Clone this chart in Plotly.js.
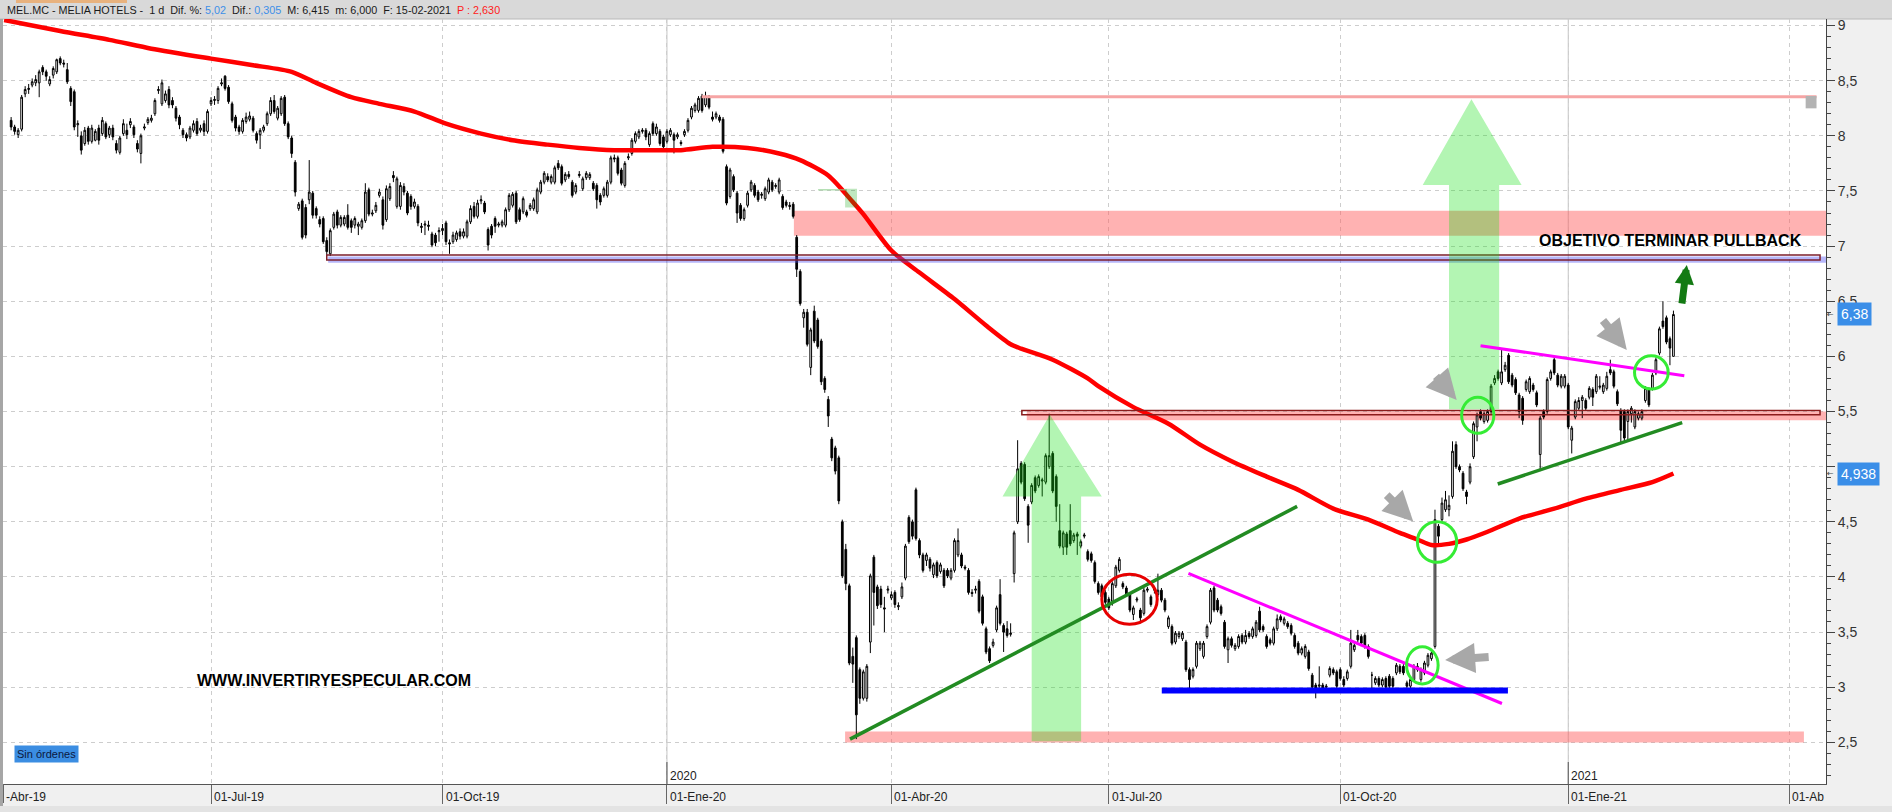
<!DOCTYPE html>
<html><head><meta charset="utf-8">
<script src="https://cdn.plot.ly/plotly-3.0.1.min.js"></script>
<style>html,body{margin:0;padding:0;background:#f0f0f0;overflow:hidden}#chart{width:1892px;height:812px}</style>
</head><body><div id="chart"></div>
<script>
// ---------------- DATA ----------------
const HOLIDAYS = ['2019-04-19','2019-04-22','2019-05-01','2019-12-25','2019-12-26','2020-01-01','2020-04-10','2020-04-13','2020-05-01','2020-12-25','2021-01-01','2021-04-02','2021-04-05'];
const FIRST_DAY = '2019-04-08';
const LAST_DAY = '2021-02-15';

const OPEN = [
8.14,8.08,8.01,8.06,8.38,8.42,8.46,8.48,8.48,8.62,
8.58,8.47,8.55,8.58,8.70,8.66,8.60,8.43,8.40,8.10,
8.00,7.93,8.07,7.95,7.96,8.07,8.02,8.11,8.01,8.07,
7.93,7.85,8.02,8.05,8.10,8.08,7.93,7.84,8.07,8.12,
8.14,8.20,8.41,8.29,8.32,8.42,8.32,8.25,8.17,8.05,
8.01,7.99,8.05,8.13,8.05,8.11,8.04,8.29,8.32,8.32,
8.47,8.54,8.44,8.29,8.17,8.08,8.04,8.13,8.15,8.16,
8.02,8.01,8.05,8.11,8.20,8.32,8.16,8.20,8.35,8.11,
7.98,7.76,7.34,7.41,7.35,7.42,7.48,7.34,7.24,7.25,
7.05,6.93,7.17,7.31,7.19,7.20,7.28,7.23,7.19,7.18,
7.17,7.23,7.51,7.29,7.32,7.46,7.42,7.24,7.43,7.64,
7.36,7.36,7.54,7.48,7.45,7.36,7.36,7.18,7.19,7.19,
7.11,7.10,7.13,7.14,7.21,7.03,7.04,7.06,7.13,7.09,
7.09,7.22,7.36,7.27,7.41,7.39,7.15,7.18,7.25,7.19,
7.19,7.19,7.33,7.37,7.48,7.33,7.31,7.31,7.34,7.34,
7.31,7.49,7.58,7.63,7.58,7.58,7.75,7.72,7.60,7.65,
7.58,7.49,7.64,7.52,7.62,7.62,7.57,7.55,7.46,7.46,
7.46,7.58,7.80,7.80,7.69,7.55,7.80,7.84,7.95,7.99,
8.04,8.05,7.92,8.11,8.02,8.04,7.99,7.95,8.01,8.01,
7.99,7.94,8.01,8.05,8.17,8.23,8.23,8.36,8.28,8.35,
8.17,8.17,8.17,8.15,7.72,7.45,7.63,7.48,7.37,7.25,
7.37,7.51,7.55,7.49,7.46,7.43,7.49,7.58,7.54,7.49,
7.45,7.40,7.37,7.38,7.08,6.77,6.35,6.40,5.90,6.41,
6.33,6.14,5.80,5.61,5.25,5.17,5.08,4.50,4.25,3.92,
3.28,3.45,3.16,2.90,2.90,3.41,4.18,3.91,3.89,3.72,
3.88,3.81,3.86,3.73,3.82,3.99,4.54,4.50,4.79,4.33,
4.20,4.15,4.16,4.02,4.13,4.05,4.06,4.06,3.99,4.06,
4.20,4.20,4.09,4.06,3.86,3.88,3.96,3.82,3.53,3.35,
3.38,3.52,3.84,3.56,3.53,3.48,4.03,4.50,5.03,5.02,
4.64,4.68,4.90,4.83,4.87,4.86,5.00,5.12,4.91,4.42,
4.27,4.39,4.42,4.33,4.39,4.28,4.37,4.23,4.21,4.13,
3.94,3.92,3.86,3.80,3.78,3.92,4.06,3.94,3.90,3.84,
3.66,3.79,3.70,3.67,3.88,3.82,3.88,3.84,3.88,3.79,
3.55,3.55,3.41,3.46,3.44,3.41,3.16,3.10,3.19,3.35,
3.28,3.46,3.59,3.90,3.79,3.73,3.59,3.34,3.44,3.35,
3.37,3.47,3.41,3.49,3.46,3.47,3.69,3.55,3.46,3.43,
3.40,3.53,3.64,3.58,3.58,3.56,3.47,3.40,3.31,3.28,
3.32,3.11,3.02,3.01,3.02,3.00,3.11,3.16,3.14,3.16,
3.07,3.08,3.19,3.34,3.47,3.46,3.47,3.37,3.11,3.04,
3.08,3.02,3.08,3.10,3.08,3.13,3.19,3.19,3.04,3.01,
3.07,3.16,3.07,3.13,3.20,3.26,3.37,4.46,4.52,4.61,
4.61,4.73,5.20,5.00,4.94,4.77,4.86,5.09,5.36,5.50,
5.41,5.42,5.50,5.76,5.86,5.76,5.88,6.01,5.83,5.79,
5.65,5.62,5.70,5.68,5.74,5.67,5.11,5.50,5.50,5.80,
5.97,5.83,5.73,5.73,5.74,5.24,5.45,5.53,5.60,5.60,
5.63,5.70,5.68,5.72,5.68,5.71,5.88,5.86,5.68,5.51,
5.50,5.41,5.48,5.36,5.44,5.44,5.60,5.70,5.71,5.85,
6.03,6.32,6.35,6.16,6.00];

const HIGH = [
8.17,8.10,8.07,8.37,8.45,8.47,8.52,8.55,8.60,8.64,
8.60,8.54,8.63,8.70,8.72,8.69,8.66,8.45,8.42,8.14,
8.04,8.08,8.09,8.10,8.06,8.10,8.17,8.13,8.09,8.10,
7.96,8.00,8.15,8.11,8.16,8.10,7.96,8.02,8.11,8.17,
8.19,8.34,8.45,8.51,8.41,8.45,8.35,8.27,8.19,8.07,
8.03,8.09,8.14,8.16,8.10,8.14,8.24,8.35,8.36,8.45,
8.52,8.55,8.46,8.31,8.19,8.10,8.16,8.21,8.22,8.18,
8.04,8.07,8.10,8.22,8.35,8.37,8.27,8.36,8.37,8.13,
8.00,7.78,7.40,7.43,7.38,7.78,7.50,7.36,7.27,7.27,
7.08,7.16,7.31,7.33,7.28,7.28,7.38,7.25,7.27,7.22,
7.25,7.57,7.53,7.33,7.40,7.52,7.45,7.55,7.57,7.68,
7.63,7.58,7.57,7.50,7.47,7.43,7.38,7.21,7.23,7.23,
7.13,7.12,7.17,7.20,7.23,7.06,7.13,7.14,7.16,7.16,
7.24,7.37,7.40,7.42,7.46,7.41,7.17,7.20,7.27,7.22,
7.24,7.35,7.48,7.49,7.50,7.35,7.45,7.33,7.39,7.44,
7.53,7.60,7.68,7.66,7.65,7.73,7.78,7.74,7.67,7.68,
7.60,7.57,7.68,7.63,7.68,7.67,7.59,7.57,7.48,7.54,
7.60,7.82,7.83,7.82,7.71,7.77,7.84,7.98,8.04,8.06,
8.07,8.07,8.04,8.13,8.11,8.06,8.01,8.06,8.07,8.03,
8.03,7.96,8.06,8.16,8.27,8.30,8.36,8.38,8.40,8.37,
8.22,8.22,8.19,8.17,7.74,7.71,7.65,7.50,7.39,7.35,
7.50,7.60,7.57,7.51,7.49,7.54,7.62,7.60,7.57,7.62,
7.47,7.42,7.40,7.40,7.10,6.79,6.43,6.43,6.26,6.46,
6.35,6.16,5.82,5.64,5.27,5.19,5.10,4.52,4.30,3.94,
3.36,3.47,3.18,3.16,3.21,4.03,4.20,3.93,3.92,3.82,
3.92,3.87,3.88,3.77,3.95,4.30,4.56,4.52,4.81,4.35,
4.22,4.22,4.18,4.13,4.15,4.13,4.08,4.08,4.08,4.35,
4.44,4.22,4.11,4.08,3.89,3.92,3.98,3.84,3.55,3.37,
3.44,3.74,3.98,3.58,3.60,3.58,4.42,5.24,5.05,5.04,
4.66,4.85,4.92,4.93,4.90,5.12,5.48,5.14,4.93,4.66,
4.42,4.41,4.66,4.40,4.41,4.34,4.40,4.25,4.23,4.15,
3.96,3.94,3.88,3.82,3.96,4.11,4.18,3.96,3.92,3.86,
3.74,3.82,3.72,3.90,3.91,3.84,3.91,4.03,3.90,3.81,
3.65,3.57,3.51,3.51,3.51,3.43,3.18,3.18,3.42,3.42,
3.42,3.57,3.90,3.92,3.81,3.75,3.61,3.46,3.46,3.40,
3.48,3.49,3.52,3.51,3.55,3.61,3.73,3.57,3.48,3.45,
3.55,3.66,3.66,3.64,3.60,3.58,3.49,3.42,3.37,3.39,
3.34,3.13,3.04,3.19,3.04,3.03,3.19,3.18,3.16,3.18,
3.10,3.16,3.52,3.40,3.52,3.48,3.49,3.39,3.14,3.10,
3.10,3.09,3.10,3.12,3.10,3.22,3.21,3.21,3.06,3.09,
3.21,3.22,3.18,3.24,3.31,3.33,4.61,4.48,4.72,4.78,
4.74,5.23,5.23,5.02,4.96,4.79,5.03,5.41,5.49,5.52,
5.50,5.52,5.75,5.83,5.88,6.06,5.95,6.03,5.85,5.81,
5.67,5.64,5.79,5.82,5.76,5.69,5.46,5.52,5.81,5.88,
6.00,5.85,5.84,5.84,5.76,5.37,5.61,5.63,5.65,5.62,
5.73,5.72,5.84,5.82,5.76,5.86,5.97,5.88,5.70,5.53,
5.52,5.52,5.55,5.52,5.50,5.52,5.73,5.72,5.85,5.99,
6.27,6.50,6.37,6.18,6.415];

const LOW = [
8.05,8.01,7.98,8.04,8.35,8.38,8.44,8.45,8.35,8.55,
8.50,8.45,8.52,8.56,8.64,8.62,8.47,8.27,8.05,7.99,
7.83,7.91,7.92,7.93,7.95,7.92,8.00,7.97,7.98,7.96,
7.84,7.83,8.00,7.97,8.07,7.98,7.85,7.75,8.05,8.10,
8.12,8.18,8.38,8.27,8.30,8.25,8.25,8.13,8.06,7.98,
7.95,7.97,8.03,8.00,8.03,8.00,8.02,8.27,8.28,8.29,
8.45,8.41,8.29,8.12,8.04,8.01,8.02,8.11,8.13,8.03,
7.93,7.88,8.03,8.09,8.18,8.20,8.14,8.18,8.09,7.97,
7.80,7.45,7.32,7.06,7.07,7.38,7.25,7.25,7.17,7.02,
6.92,6.91,7.15,7.16,7.17,7.18,7.15,7.12,7.16,7.10,
7.15,7.21,7.27,7.27,7.30,7.44,7.15,7.22,7.41,7.58,
7.34,7.33,7.46,7.28,7.33,7.34,7.18,7.12,7.10,7.14,
6.99,7.00,7.04,7.10,7.01,6.93,7.02,7.04,7.06,7.07,
7.07,7.20,7.25,7.25,7.38,7.29,6.96,7.07,7.12,7.17,
7.17,7.17,7.31,7.35,7.20,7.22,7.29,7.26,7.32,7.32,
7.29,7.47,7.56,7.58,7.56,7.56,7.69,7.55,7.58,7.61,
7.44,7.47,7.62,7.50,7.60,7.60,7.50,7.34,7.37,7.44,
7.44,7.56,7.76,7.64,7.55,7.53,7.78,7.82,7.93,7.97,
8.02,7.96,7.90,8.00,8.00,7.91,7.87,7.93,7.99,7.84,
7.97,7.91,7.99,8.03,8.15,8.21,8.21,8.21,8.26,8.24,
8.13,8.15,8.12,7.84,7.37,7.43,7.49,7.21,7.23,7.23,
7.35,7.49,7.44,7.40,7.43,7.41,7.47,7.49,7.52,7.47,
7.33,7.35,7.33,7.25,6.72,6.46,6.26,6.09,5.83,6.12,
6.07,5.74,5.67,5.36,5.05,4.93,4.66,3.99,3.88,3.20,
3.04,2.53,2.85,2.88,2.87,3.31,3.56,3.71,3.72,3.50,
3.85,3.79,3.72,3.70,3.80,3.97,4.30,4.34,4.33,4.17,
4.04,4.10,4.05,3.99,3.99,4.03,3.90,3.99,3.97,4.04,
4.18,4.08,4.06,3.84,3.82,3.85,3.67,3.56,3.30,3.22,
3.36,3.50,3.56,3.32,3.45,3.46,3.95,4.48,4.84,4.69,
4.31,4.66,4.76,4.81,4.73,4.84,4.98,4.76,4.50,4.26,
4.20,4.20,4.28,4.31,4.20,4.26,4.35,4.14,4.13,3.94,
3.84,3.80,3.75,3.70,3.74,3.90,4.04,3.89,3.82,3.68,
3.61,3.77,3.58,3.65,3.86,3.73,3.85,3.82,3.77,3.68,
3.53,3.38,3.39,3.44,3.42,3.14,2.98,3.08,3.17,3.33,
3.26,3.44,3.57,3.68,3.68,3.65,3.35,3.22,3.36,3.33,
3.35,3.39,3.39,3.44,3.44,3.45,3.50,3.50,3.35,3.38,
3.38,3.51,3.59,3.56,3.53,3.47,3.35,3.29,3.29,3.26,
3.15,2.95,2.90,2.98,2.96,2.97,3.09,3.11,2.99,3.06,
3.00,3.06,3.17,3.32,3.41,3.38,3.35,3.26,2.98,3.02,
3.00,3.00,2.98,2.99,2.99,3.11,3.12,3.11,2.99,2.99,
3.05,3.14,3.05,3.11,3.18,3.24,3.35,4.30,4.50,4.59,
4.55,4.71,4.98,4.95,4.78,4.66,4.84,5.07,5.23,5.42,
5.39,5.40,5.48,5.74,5.78,5.74,5.86,5.75,5.72,5.65,
5.44,5.38,5.68,5.66,5.68,5.54,4.96,5.43,5.48,5.78,
5.83,5.72,5.71,5.71,5.34,5.12,5.43,5.51,5.44,5.51,
5.61,5.55,5.66,5.70,5.66,5.69,5.83,5.71,5.55,5.22,
5.22,5.24,5.40,5.34,5.42,5.42,5.58,5.54,5.69,5.83,
6.01,6.25,6.11,5.92,6.00];

const CLOSE = [
8.08,8.04,8.05,8.35,8.42,8.43,8.49,8.51,8.58,8.58,
8.54,8.51,8.61,8.69,8.66,8.65,8.49,8.31,8.08,8.11,
7.87,8.05,7.95,8.07,8.04,7.96,8.14,7.99,8.07,7.99,
7.87,7.98,8.11,8.01,8.13,8.01,7.88,8.00,8.08,8.15,
8.16,8.32,8.42,8.48,8.38,8.28,8.28,8.16,8.10,8.01,
7.98,8.07,8.11,8.02,8.07,8.04,8.22,8.32,8.33,8.43,
8.48,8.43,8.31,8.14,8.07,8.04,8.14,8.17,8.18,8.05,
7.96,8.05,8.08,8.20,8.32,8.22,8.25,8.34,8.11,7.99,
7.84,7.49,7.38,7.08,7.10,7.49,7.28,7.28,7.20,7.04,
6.95,7.14,7.29,7.19,7.26,7.26,7.17,7.17,7.25,7.20,
7.23,7.49,7.29,7.30,7.37,7.49,7.19,7.52,7.54,7.62,
7.61,7.55,7.49,7.30,7.36,7.40,7.21,7.17,7.20,7.18,
7.01,7.03,7.14,7.16,7.04,7.02,7.10,7.12,7.09,7.13,
7.22,7.34,7.27,7.39,7.42,7.31,7.01,7.10,7.18,7.20,
7.22,7.33,7.46,7.47,7.22,7.24,7.43,7.28,7.37,7.42,
7.51,7.58,7.66,7.60,7.63,7.71,7.71,7.57,7.65,7.63,
7.46,7.55,7.65,7.61,7.66,7.65,7.52,7.42,7.40,7.52,
7.58,7.80,7.79,7.66,7.57,7.75,7.81,7.96,8.02,8.04,
8.05,7.99,8.02,8.02,8.08,7.93,7.90,8.04,8.05,7.96,
8.01,7.93,8.04,8.14,8.25,8.28,8.34,8.23,8.36,8.26,
8.15,8.20,8.14,7.86,7.39,7.69,7.51,7.30,7.25,7.33,
7.48,7.58,7.46,7.42,7.47,7.52,7.60,7.51,7.55,7.60,
7.35,7.37,7.36,7.27,6.79,6.48,6.40,6.11,6.24,6.14,
6.09,5.77,5.70,5.46,5.08,4.96,4.69,4.01,3.94,3.22,
3.21,2.75,2.90,3.14,3.19,4.01,3.86,3.74,3.75,3.71,
3.89,3.84,3.75,3.74,3.91,4.28,4.32,4.37,4.35,4.20,
4.06,4.20,4.08,4.11,4.01,4.11,3.92,4.01,4.06,4.33,
4.33,4.10,4.08,3.86,3.85,3.89,3.69,3.58,3.32,3.24,
3.41,3.72,3.58,3.50,3.47,3.49,4.40,4.98,4.86,4.71,
4.47,4.83,4.78,4.91,4.88,5.10,5.10,4.78,4.64,4.28,
4.40,4.27,4.30,4.38,4.37,4.32,4.38,4.16,4.15,3.96,
3.86,3.82,3.77,3.72,3.94,4.09,4.16,3.91,3.84,3.70,
3.72,3.80,3.63,3.88,3.89,3.75,3.89,3.88,3.79,3.70,
3.63,3.40,3.49,3.49,3.49,3.16,3.07,3.16,3.40,3.40,
3.40,3.55,3.88,3.70,3.70,3.67,3.37,3.44,3.38,3.38,
3.46,3.41,3.47,3.46,3.53,3.59,3.52,3.52,3.37,3.40,
3.53,3.62,3.61,3.62,3.55,3.49,3.37,3.31,3.35,3.37,
3.17,3.00,2.99,3.02,2.99,3.01,3.17,3.13,3.01,3.08,
3.02,3.14,3.40,3.38,3.43,3.40,3.37,3.28,3.11,3.08,
3.02,3.07,3.00,3.01,3.01,3.20,3.14,3.13,3.01,3.07,
3.19,3.19,3.16,3.22,3.29,3.31,4.52,4.37,4.67,4.70,
4.65,5.14,5.00,4.97,4.80,4.73,5.00,5.39,5.47,5.44,
5.48,5.50,5.73,5.80,5.80,5.86,5.92,5.77,5.74,5.67,
5.50,5.42,5.77,5.80,5.70,5.56,5.44,5.45,5.79,5.86,
5.85,5.74,5.82,5.82,5.36,5.35,5.59,5.60,5.63,5.53,
5.71,5.63,5.82,5.73,5.74,5.82,5.85,5.73,5.57,5.33,
5.26,5.50,5.53,5.50,5.48,5.50,5.71,5.56,5.83,5.97,
6.25,6.27,6.13,6.075,6.38];

// 200-session moving average (red line), read at sample dates
const MA_DATES = ['2019-04-04','2019-04-30','2019-05-21','2019-06-06','2019-07-01','2019-07-17','2019-08-01','2019-08-12','2019-08-26','2019-09-05','2019-09-19','2019-10-02','2019-10-16','2019-10-29','2019-11-12','2019-11-25','2019-12-09','2019-12-20','2020-01-08','2020-01-21','2020-02-04','2020-02-17','2020-02-25','2020-03-06','2020-03-17','2020-03-20','2020-04-01','2020-04-15','2020-04-29','2020-05-13','2020-05-22','2020-05-27','2020-06-09','2020-06-23','2020-06-26','2020-07-10','2020-07-24','2020-08-06','2020-08-19','2020-09-02','2020-09-15','2020-09-29','2020-10-13','2020-10-26','2020-11-02','2020-11-06','2020-11-13','2020-11-20','2020-11-30','2020-12-11','2020-12-28','2021-01-11','2021-01-25','2021-02-05','2021-02-15'];
const MA_VALUES = [9.05,8.95,8.87,8.79,8.70,8.64,8.58,8.48,8.35,8.29,8.22,8.11,8.02,7.96,7.92,7.89,7.87,7.87,7.87,7.90,7.89,7.84,7.78,7.64,7.40,7.29,6.96,6.76,6.52,6.28,6.11,6.07,5.97,5.80,5.73,5.54,5.39,5.20,5.05,4.91,4.79,4.62,4.52,4.40,4.34,4.29,4.30,4.34,4.41,4.53,4.62,4.71,4.79,4.86,4.938];

const X_TICKS = ['2019-07-01','2019-10-01','2020-01-02','2020-04-01','2020-07-01','2020-10-01','2021-01-04','2021-04-01'];
const X_TICK_TEXT = ['01-Jul-19','01-Oct-19','01-Ene-20','01-Abr-20','01-Jul-20','01-Oct-20','01-Ene-21','01-Ab'];
const YEAR_MARKS = ['2020-01-02','2021-01-04'];
const YEAR_TEXT = ['2020','2021'];
const Y_TICKS = [2.5,3,3.5,4,4.5,5,5.5,6,6.5,7,7.5,8,8.5,9];
// the "5" label sits under the 4,938 marker in the reference
const Y_TICK_TEXT = ['2,5','3','3,5','4','4,5','','5,5','6','6,5','7','7,5','8','8,5','9'];
const LAST_PRICE = 6.38, LAST_MA = 4.938;
const LAST_PRICE_TEXT = '6,38', LAST_MA_TEXT = '4,938';

// ---------------- CALENDAR ----------------
function tradingCalendar(start, end) {
  const out = [];
  let t = Date.parse(start + 'T00:00:00Z');
  const e = Date.parse(end + 'T00:00:00Z');
  while (t <= e) {
    const d = new Date(t);
    const wd = d.getUTCDay();
    const s = d.toISOString().slice(0, 10);
    if (wd !== 0 && wd !== 6 && HOLIDAYS.indexOf(s) < 0) out.push(s);
    t += 86400000;
  }
  return out;
}
const CAL = tradingCalendar('2019-04-01', '2021-04-30');
// fractional session index (0 = 2019-04-01) -> datetime string, session centres at noon
function td(k) {
  const p = k + 0.5, day = Math.floor(p), frac = p - day;
  const ms = Date.parse(CAL[day] + 'T00:00:00Z') + Math.round(frac * 86400000);
  return new Date(ms).toISOString().replace('T', ' ').slice(0, 19);
}
const tdp = k => td(k).replace(' ', '_');

const i0 = CAL.indexOf(FIRST_DAY);
[HIGH, LOW, CLOSE].forEach(a => { if (a.length !== OPEN.length) throw new Error('array length mismatch ' + a.length + ' vs ' + OPEN.length); });
if (CAL[i0 + OPEN.length - 1] !== LAST_DAY) throw new Error('calendar mismatch: ' + OPEN.length + ' ends ' + CAL[i0 + OPEN.length - 1]);
const candleX = CAL.slice(i0, i0 + OPEN.length).map(d => d + ' 12:00');

// ---------------- GEOMETRY ----------------
const W = 1892, H = 812;
const M = {l: 3, r: 66, t: 19, b: 28};
const PW = W - M.l - M.r, PH = H - M.t - M.b;
const pxX = px => (px - M.l) / PW;
const pxY = py => (H - M.b - py) / PH;

const shapes = [];
const rect = (o) => shapes.push(Object.assign({type: 'rect', xref: 'x', yref: 'y', line: {width: 0}}, o));
const line = (o) => shapes.push(Object.assign({type: 'line', xref: 'x', yref: 'y'}, o));

// frame pieces (paper)
shapes.push({type: 'rect', xref: 'paper', yref: 'paper', x0: pxX(0), x1: pxX(W), y0: pxY(19), y1: pxY(0), fillcolor: '#d9d9d9', line: {width: 0}, layer: 'below'});
shapes.push({type: 'line', xref: 'paper', yref: 'paper', x0: pxX(0), x1: pxX(W), y0: pxY(19), y1: pxY(19), line: {color: '#b8b8b8', width: 1}, layer: 'below'});
shapes.push({type: 'rect', xref: 'paper', yref: 'paper', x0: pxX(16), x1: pxX(127), y0: pxY(3), y1: pxY(0), fillcolor: '#e8b27e', line: {width: 0}, layer: 'below'});
shapes.push({type: 'rect', xref: 'paper', yref: 'paper', x0: pxX(0), x1: pxX(3), y0: pxY(812), y1: pxY(19), fillcolor: '#a6a6a6', line: {width: 0}, layer: 'below'});
shapes.push({type: 'rect', xref: 'paper', yref: 'paper', x0: pxX(0), x1: pxX(W), y0: pxY(812), y1: pxY(806), fillcolor: '#e3e3e3', line: {width: 0}, layer: 'below'});
shapes.push({type: 'line', xref: 'paper', yref: 'paper', x0: pxX(3.5), x1: pxX(3.5), y0: 0, y1: pxY(803), line: {color: '#666', width: 1}});

// year separators
YEAR_MARKS.forEach(d => {
  shapes.push({type: 'line', xref: 'x', yref: 'paper', x0: d + ' 12:00', x1: d + ' 12:00', y0: 0, y1: 1, line: {color: '#c4c4c4', width: 1}, layer: 'between'});
  shapes.push({type: 'line', xref: 'x', yref: 'paper', x0: d + ' 12:00', x1: d + ' 12:00', y0: 0, y1: pxY(762), line: {color: '#555', width: 1}});
});

// zones
const PINK = 'rgba(255,95,95,0.48)';
rect({x0: td(228.2), x1: td(522.5), y0: 7.094, y1: 7.321, fillcolor: PINK, layer: 'between'});
rect({x0: td(294.6), x1: td(522.5), y0: 5.42, y1: 5.50, fillcolor: PINK, layer: 'between'});
rect({x0: td(242.8), x1: td(516.2), y0: 2.50, y1: 2.60, fillcolor: PINK, layer: 'between'});
line({x0: td(201.9), x1: td(519.8), y0: 8.355, y1: 8.355, line: {color: '#f6a4a4', width: 3}});
rect({x0: td(516.7), x1: td(519.8), y0: 8.249, y1: 8.361, fillcolor: '#b3b3b3'});
rect({x0: td(95.4), x1: td(522.5), y0: 6.85, y1: 6.905, fillcolor: 'rgba(80,80,240,0.42)', layer: 'above'});
rect({x0: td(95.0), x1: td(520.8), y0: 6.875, y1: 6.92, fillcolor: 'rgba(0,0,0,0)', line: {color: '#7d1f2c', width: 1.5}, layer: 'above'});
rect({x0: td(293.2), x1: td(520.8), y0: 5.47, y1: 5.51, fillcolor: 'rgba(0,0,0,0)', line: {color: '#8b1c1c', width: 1.5}, layer: 'above'});
// small green marks (Feb 2020)
line({x0: td(235.1), x1: td(243.3), y0: 7.51, y1: 7.51, line: {color: '#8fd08f', width: 1}});
rect({x0: td(242.8), x1: td(246.2), y0: 7.35, y1: 7.52, fillcolor: 'rgba(0,160,0,0.25)', layer: 'above'});

// big light-green arrows
const ARROW_FILL = 'rgba(20,225,20,0.32)';
function arrowPath(s0, s1, bottom, headBase, h0, h1, apexK, apexV) {
  const pts = [[s0, bottom], [s0, headBase], [h0, headBase], [apexK, apexV], [h1, headBase], [s1, headBase], [s1, bottom]];
  return 'M' + pts.map(p => tdp(p[0]) + ',' + p[1]).join('L') + 'Z';
}
shapes.push({type: 'path', xref: 'x', yref: 'y', path: arrowPath(296.0, 310.1, 2.51, 4.73, 287.7, 316.0, 301.2, 5.47), fillcolor: ARROW_FILL, line: {width: 0}, layer: 'above'});
shapes.push({type: 'path', xref: 'x', yref: 'y', path: arrowPath(415.0, 429.3, 5.52, 7.554, 407.5, 435.7, 421.4, 8.331), fillcolor: ARROW_FILL, line: {width: 0}, layer: 'above'});

// trend lines
const GREEN = '#228b22', MAG = '#ff00ff';
line({x0: td(244.2), y0: 2.53, x1: td(371.7), y1: 4.64, line: {color: GREEN, width: 3.5}});
line({x0: td(428.9), y0: 4.843, x1: td(481.5), y1: 5.399, line: {color: GREEN, width: 3.5}});
line({x0: td(340.7), y0: 4.033, x1: td(430.1), y1: 2.853, line: {color: MAG, width: 3}});
line({x0: td(424.0), y0: 6.097, x1: td(482.1), y1: 5.825, line: {color: MAG, width: 3}});
line({x0: td(333.1), y0: 2.97, x1: td(431.8), y1: 2.97, line: {color: '#0000ff', width: 6}});

// circles
const circ = (a, b, v0, v1, c) => shapes.push({type: 'circle', xref: 'x', yref: 'y', x0: td(a), x1: td(b), y0: v0, y1: v1, line: {color: c, width: 3}, fillcolor: 'rgba(0,0,0,0)'});
circ(316.0, 331.8, 3.572, 4.025, '#e60000');
circ(402.9, 411.9, 3.030, 3.368, '#35ec35');
circ(406.0, 417.2, 4.133, 4.501, '#35ec35');
circ(418.6, 427.8, 5.303, 5.629, '#35ec35');
circ(467.9, 477.5, 5.704, 6.006, '#35ec35');

// ---------------- ANNOTATIONS ----------------
const ann = [];
const txt = (o) => ann.push(Object.assign({showarrow: false}, o));
const AX_FONT = {family: 'Liberation Sans, Arial, sans-serif', size: 12, color: '#222'};

X_TICKS.forEach((d, j) => txt({x: d + ' 12:00', xref: 'x', y: pxY(797), yref: 'paper', xanchor: 'left', yanchor: 'middle', xshift: 1, text: X_TICK_TEXT[j], font: AX_FONT}));
txt({x: pxX(4), xref: 'paper', y: pxY(797), yref: 'paper', xanchor: 'left', yanchor: 'middle', text: '-Abr-19', font: AX_FONT});
YEAR_MARKS.forEach((d, j) => txt({x: d + ' 12:00', xref: 'x', y: pxY(776), yref: 'paper', xanchor: 'left', yanchor: 'middle', xshift: 1, text: YEAR_TEXT[j], font: AX_FONT}));

const NB = '\u00a0';
txt({x: pxX(5), xref: 'paper', y: pxY(9.5), yref: 'paper', xanchor: 'left', yanchor: 'middle',
  text: 'MEL.MC - MELIA HOTELS -' + NB + NB + '1 d' + NB + NB + 'Dif. %: <span style="color:#3d8fe8">5,02</span>' + NB + NB + 'Dif.: <span style="color:#3d8fe8">0,305</span>' + NB + NB + 'M: 6,415' + NB + NB + 'm: 6,000' + NB + NB + 'F: 15-02-2021' + NB + NB + '<span style="color:#ff1a1a">P : 2,630</span>',
  font: {family: 'Liberation Sans, Arial, sans-serif', size: 10.8, color: '#1a1a1a'}});

const BIG = {family: 'Liberation Sans, Arial, sans-serif', size: 16, color: '#000', weight: 'bold'};
txt({x: td(440.0), y: 7.053, xref: 'x', yref: 'y', xanchor: 'left', yanchor: 'middle', text: '<b>OBJETIVO TERMINAR PULLBACK</b>', font: BIG});
txt({x: td(57.4), y: 3.059, xref: 'x', yref: 'y', xanchor: 'left', yanchor: 'middle', text: '<b>WWW.INVERTIRYESPECULAR.COM</b>', font: BIG});

txt({x: pxX(14), xref: 'paper', y: pxY(754), yref: 'paper', xanchor: 'left', yanchor: 'middle', text: 'Sin órdenes', bgcolor: '#3b8de2', borderpad: 2,
  font: {family: 'Liberation Sans, Arial, sans-serif', size: 11, color: '#0b1840'}});

const LBL = {family: 'Liberation Sans, Arial, sans-serif', size: 14, color: '#ffffff'};
[[LAST_PRICE, LAST_PRICE_TEXT], [LAST_MA, LAST_MA_TEXT]].forEach(p => {
  txt({x: pxX(1837), xref: 'paper', y: p[0], yref: 'y', xanchor: 'left', yanchor: 'middle', text: p[1], bgcolor: '#3a8ee8', borderpad: 3, font: LBL});
  txt({x: pxX(1836), xref: 'paper', y: p[0], yref: 'y', xanchor: 'right', yanchor: 'middle', text: '←', font: {family: 'DejaVu Sans', size: 8, color: '#444'}});
});

// arrows (gray hints + dark green target arrow)
const grayArrow = (k, v, ax, ay) => ann.push({x: td(k), y: v, xref: 'x', yref: 'y', ax: ax, ay: ay, text: '', showarrow: true, arrowhead: 2, arrowsize: 0.75, arrowwidth: 8, arrowcolor: '#a8a8a8'});
grayArrow(417.2, 5.605, -22, -25);
grayArrow(465.7, 6.058, -25, -31);
grayArrow(404.8, 4.502, -28, -28);
grayArrow(413.9, 3.248, 45, -3);
ann.push({x: td(482.8), y: 6.829, xref: 'x', yref: 'y', ax: -5, ay: 40, text: '', showarrow: true, arrowhead: 2, arrowsize: 0.55, arrowwidth: 7, arrowcolor: '#137a13'});

// ---------------- TRACES ----------------
const traces = [
  {type: 'candlestick', x: candleX, open: OPEN, high: HIGH, low: LOW, close: CLOSE,
   increasing: {line: {color: '#000', width: 1}, fillcolor: '#ffffff'},
   decreasing: {line: {color: '#000', width: 1}, fillcolor: '#000000'},
   whiskerwidth: 0, hoverinfo: 'skip', showlegend: false},
  {type: 'scatter', mode: 'lines', x: MA_DATES.map(d => d + ' 12:00'), y: MA_VALUES,
   line: {color: '#ff0000', width: 4.5, shape: 'spline', smoothing: 0.7}, hoverinfo: 'skip', showlegend: false}
];

const layout = {
  width: W, height: H, margin: M,
  paper_bgcolor: '#f0f0f0', plot_bgcolor: '#ffffff',
  font: {family: 'Liberation Sans, Arial, sans-serif'},
  showlegend: false, dragmode: false, hovermode: false,
  xaxis: {
    type: 'date', range: [td(2.68), td(522.5)],
    rangebreaks: [{bounds: ['sat', 'mon']}, {values: HOLIDAYS}],
    rangeslider: {visible: false},
    tickmode: 'array', tickvals: X_TICKS.map(d => d + ' 12:00'),
    ticks: 'outside', ticklen: 19, tickwidth: 1, tickcolor: '#666',
    showticklabels: false,
    showgrid: true, gridcolor: '#cdcdcd', griddash: '4px,4px', gridwidth: 1,
    showline: true, linecolor: '#555', linewidth: 1, zeroline: false, fixedrange: true
  },
  yaxis: {
    side: 'right', range: [2.123, 9.059],
    tickmode: 'array', tickvals: Y_TICKS, ticktext: Y_TICK_TEXT,
    ticks: 'outside', ticklen: 8, tickwidth: 1, tickcolor: '#444',
    minor: {tickmode: 'linear', tick0: 2, dtick: 0.1, ticks: 'outside', ticklen: 4, tickcolor: '#444', showgrid: false},
    tickfont: {family: 'Liberation Sans, Arial, sans-serif', size: 14, color: '#333'},
    showgrid: true, gridcolor: '#cdcdcd', griddash: '4px,4px', gridwidth: 1,
    showline: true, linecolor: '#444', linewidth: 1, zeroline: false, fixedrange: true
  },
  shapes: shapes,
  annotations: ann
};

Plotly.newPlot('chart', traces, layout, {staticPlot: true, displayModeBar: false});
</script></body></html>
